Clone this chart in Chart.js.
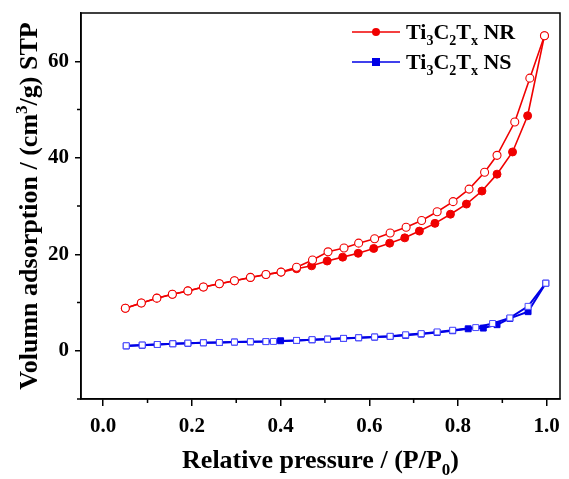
<!DOCTYPE html>
<html>
<head>
<meta charset="utf-8">
<script src="https://cdn.jsdelivr.net/npm/chart.js@4.4.1/dist/chart.umd.min.js"></script>
<style>
  html, body { margin: 0; padding: 0; background: #fff; }
  #wrap { width: 569px; height: 479px; }
</style>
</head>
<body>
<div id="wrap"><canvas id="myChart" width="569" height="479"></canvas></div>
<script>
// Ti3C2Tx NR - adsorption (filled) and desorption (open)
const nrAdsP = [0.05, 0.086, 0.121, 0.156, 0.191, 0.226, 0.262, 0.296, 0.332, 0.367, 0.401, 0.436, 0.47, 0.505, 0.54, 0.575, 0.61, 0.646, 0.68, 0.713, 0.748, 0.783, 0.819, 0.854, 0.888, 0.923, 0.957, 0.995];
const nrAdsV = [8.8, 9.9, 10.9, 11.7, 12.4, 13.2, 13.9, 14.5, 15.2, 15.8, 16.3, 17.0, 17.6, 18.6, 19.4, 20.2, 21.2, 22.3, 23.4, 24.8, 26.4, 28.3, 30.4, 33.1, 36.6, 41.2, 48.7, 65.3];
const nrDesP = [0.995, 0.962, 0.928, 0.888, 0.86, 0.825, 0.789, 0.753, 0.718, 0.683, 0.647, 0.612, 0.576, 0.543, 0.507, 0.472, 0.436, 0.401, 0.367, 0.332, 0.296, 0.262, 0.226, 0.191, 0.156, 0.121, 0.086, 0.05];
const nrDesV = [65.3, 56.5, 47.4, 40.5, 37.0, 33.5, 30.9, 28.8, 27.0, 25.6, 24.4, 23.2, 22.3, 21.3, 20.5, 18.8, 17.3, 16.3, 15.8, 15.2, 14.5, 13.9, 13.2, 12.4, 11.7, 10.9, 9.9, 8.8];

// Ti3C2Tx NS - adsorption (filled) and desorption (open)
const nsAdsP = [0.052, 0.088, 0.122, 0.157, 0.191, 0.226, 0.262, 0.296, 0.332, 0.367, 0.40, 0.436, 0.471, 0.506, 0.542, 0.576, 0.612, 0.647, 0.682, 0.717, 0.753, 0.788, 0.823, 0.857, 0.888, 0.917, 0.958, 0.998];
const nsAdsV = [1.0, 1.15, 1.3, 1.45, 1.55, 1.65, 1.7, 1.8, 1.85, 1.9, 2.07, 2.13, 2.27, 2.4, 2.55, 2.69, 2.83, 2.96, 3.2, 3.45, 3.8, 4.15, 4.55, 4.7, 5.4, 6.7, 8.1, 14.0];
const nsDesP = [0.998, 0.958, 0.917, 0.878, 0.84, 0.788, 0.753, 0.717, 0.682, 0.647, 0.612, 0.576, 0.542, 0.506, 0.471, 0.436, 0.384, 0.367, 0.332, 0.296, 0.262, 0.226, 0.191, 0.157, 0.122, 0.088, 0.052];
const nsDesV = [14.0, 9.2, 6.8, 5.65, 4.8, 4.25, 3.9, 3.55, 3.3, 3.0, 2.85, 2.7, 2.57, 2.42, 2.3, 2.15, 1.93, 1.9, 1.86, 1.8, 1.72, 1.65, 1.58, 1.45, 1.3, 1.18, 1.03];

const xMajor = [0, 0.2, 0.4, 0.6, 0.8, 1.0];
const xMinor = [0.1, 0.3, 0.5, 0.7, 0.9];
const yMajor = [0, 20, 40, 60];
const yMinor = [-10, 10, 30, 50];

const RED = '#f00000';
const BLUE = '#0000e6';
const FONT = '"Liberation Serif", "Times New Roman", serif';

function pts(xs, ys) {
    return xs.map((x, i) => ({ x: x, y: ys[i] }));
}

// draw text made of pieces; sub/sup pieces are smaller and shifted
function richText(ctx, parts, x, y, size, align) {
    const small = Math.round(size * 0.64);
    let w = 0;
    parts.forEach(p => {
        ctx.font = 'bold ' + (p.sub || p.sup ? small : size) + 'px ' + FONT;
        p.w = ctx.measureText(p.t).width;
        w += p.w;
    });
    let cx = align === 'center' ? x - w / 2 : x;
    parts.forEach(p => {
        ctx.font = 'bold ' + (p.sub || p.sup ? small : size) + 'px ' + FONT;
        let dy = p.sub ? size * 0.28 : (p.sup ? -size * 0.38 : 0);
        ctx.fillText(p.t, cx, y + dy);
        cx += p.w;
    });
}

const framePlugin = {
    id: 'frame',
    afterDraw(chart) {
        const ctx = chart.ctx;
        const a = chart.chartArea;
        const xs = chart.scales.x, ys = chart.scales.y;
        ctx.save();
        ctx.strokeStyle = '#000';
        ctx.lineWidth = 1.5;
        ctx.strokeRect(a.left, a.top, a.right - a.left, a.bottom - a.top);
        ctx.beginPath();
        xMinor.forEach(v => {
            const px = xs.getPixelForValue(v);
            ctx.moveTo(px, a.bottom);
            ctx.lineTo(px, a.bottom + 4);
        });
        yMinor.forEach(v => {
            const py = ys.getPixelForValue(v);
            ctx.moveTo(a.left, py);
            ctx.lineTo(a.left - 4, py);
        });
        ctx.stroke();

        // axis titles
        ctx.fillStyle = '#000';
        ctx.textBaseline = 'alphabetic';
        ctx.textAlign = 'left';
        richText(ctx, [{ t: 'Relative pressure / (P/P' }, { t: '0', sub: true }, { t: ')' }],
            (a.left + a.right) / 2, 468, 26, 'center');
        ctx.save();
        ctx.translate(37, (a.top + a.bottom) / 2);
        ctx.rotate(-Math.PI / 2);
        richText(ctx, [{ t: 'Volumn adsorption / (cm' }, { t: '3', sup: true }, { t: '/g) STP' }],
            0, 0, 26, 'center');
        ctx.restore();

        // legend
        const items = [
            { label: 'NR', color: RED, style: 'circle', y: 32 },
            { label: 'NS', color: BLUE, style: 'rect', y: 62 }
        ];
        items.forEach(it => {
            ctx.strokeStyle = it.color;
            ctx.fillStyle = it.color;
            ctx.lineWidth = 1.6;
            ctx.beginPath();
            ctx.moveTo(352, it.y);
            ctx.lineTo(400, it.y);
            ctx.stroke();
            if (it.style === 'circle') {
                ctx.beginPath();
                ctx.arc(376, it.y, 4, 0, Math.PI * 2);
                ctx.fill();
            } else {
                ctx.fillRect(372, it.y - 4, 8, 8);
            }
            ctx.fillStyle = '#000';
            richText(ctx, [{ t: 'Ti' }, { t: '3', sub: true }, { t: 'C' }, { t: '2', sub: true },
                { t: 'T' }, { t: 'x', sub: true }, { t: ' ' + it.label }], 406, it.y + 7, 22, 'left');
        });
        ctx.restore();
    }
};

const data = {
    datasets: [
        {
            label: 'Ti3C2Tx NR desorption',
            data: pts(nrDesP, nrDesV),
            borderColor: RED,
            backgroundColor: '#fff',
            pointBorderColor: RED,
            pointBackgroundColor: '#fff',
            borderWidth: 1.6,
            pointRadius: 4,
            pointBorderWidth: 1.1,
            pointStyle: 'circle'
        },
        {
            label: 'Ti3C2Tx NR',
            data: pts(nrAdsP, nrAdsV),
            borderColor: RED,
            backgroundColor: RED,
            pointBorderColor: RED,
            pointBackgroundColor: RED,
            borderWidth: 1.6,
            pointRadius: 4,
            pointBorderWidth: 1,
            pointStyle: 'circle'
        },
        {
            label: 'Ti3C2Tx NS desorption',
            data: pts(nsDesP, nsDesV),
            borderColor: BLUE,
            backgroundColor: '#fff',
            pointBorderColor: '#4a4aff',
            pointBackgroundColor: '#fff',
            borderWidth: 2,
            pointRadius: 4.2,
            pointBorderWidth: 1,
            pointStyle: 'rect'
        },
        {
            label: 'Ti3C2Tx NS',
            data: pts(nsAdsP, nsAdsV),
            borderColor: BLUE,
            backgroundColor: BLUE,
            pointBorderColor: BLUE,
            pointBackgroundColor: BLUE,
            borderWidth: 2,
            pointRadius: 4.2,
            pointBorderWidth: 1,
            pointStyle: 'rect'
        }
    ]
};

function noPad(s) {
    s.paddingTop = 0;
    s.paddingBottom = 0;
    s.paddingLeft = 0;
    s.paddingRight = 0;
}

const config = {
    type: 'line',
    data: data,
    options: {
        responsive: false,
        animation: false,
        layout: { padding: { left: 0, top: 13, right: 9, bottom: 0 } },
        elements: { line: { tension: 0 } },
        plugins: {
            legend: { display: false },
            tooltip: { enabled: false }
        },
        scales: {
            x: {
                type: 'linear',
                min: -0.05,
                max: 1.03,
                afterBuildTicks: (s) => { s.ticks = xMajor.map(v => ({ value: v })); },
                afterFit: (s) => { s.height = 80; noPad(s); },
                grid: { drawOnChartArea: false, color: '#000', lineWidth: 1.5, tickLength: 7 },
                border: { display: true, color: '#000', width: 1.5 },
                ticks: {
                    color: '#000',
                    padding: 8,
                    maxRotation: 0,
                    font: { family: FONT, size: 21, weight: 'bold' },
                    callback: (v) => Number(v).toFixed(1)
                }
            },
            y: {
                type: 'linear',
                min: -10,
                max: 70,
                afterBuildTicks: (s) => { s.ticks = yMajor.map(v => ({ value: v })); },
                afterFit: (s) => { s.width = 81; noPad(s); },
                grid: { drawOnChartArea: false, color: '#000', lineWidth: 1.5, tickLength: 6 },
                border: { display: true, color: '#000', width: 1.5 },
                ticks: {
                    color: '#000',
                    padding: 6,
                    font: { family: FONT, size: 21, weight: 'bold' }
                }
            }
        }
    },
    plugins: [framePlugin]
};

const myChart = new Chart(document.getElementById('myChart'), config);
</script>
</body>
</html>
